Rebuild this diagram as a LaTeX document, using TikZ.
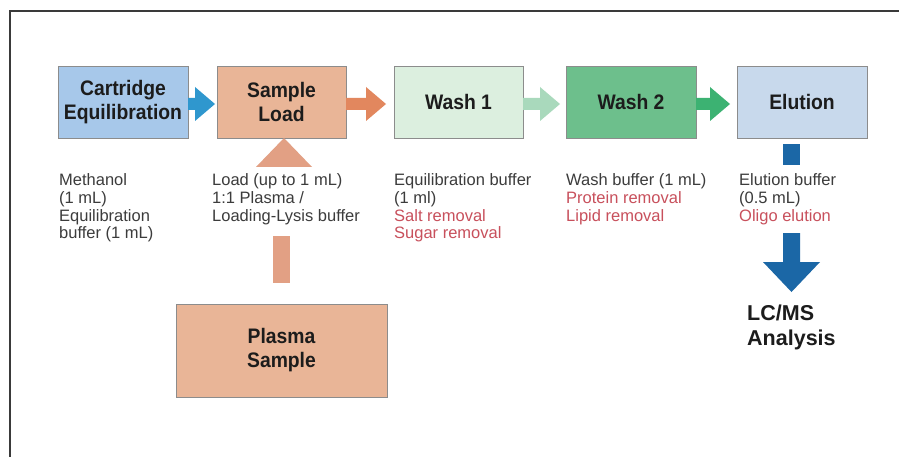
\documentclass[tikz,border=0pt]{standalone}
\usepackage{fontspec}
\setmainfont{Liberation Sans}
\newfontfamily\titlefont[FakeStretch=0.92]{Liberation Sans}
\usetikzlibrary{calc}
\definecolor{cartfill}{HTML}{A7C8EA}
\definecolor{sampfill}{HTML}{E9B597}
\definecolor{washAfill}{HTML}{DCEFDF}
\definecolor{washBfill}{HTML}{6DBF8C}
\definecolor{elutfill}{HTML}{C8D9EC}
\definecolor{arrA}{HTML}{2F97CE}
\definecolor{arrB}{HTML}{E2875E}
\definecolor{arrC}{HTML}{A9D9BC}
\definecolor{arrD}{HTML}{3CB272}
\definecolor{arrUp}{HTML}{E2A084}
\definecolor{arrDown}{HTML}{1B67A6}
\definecolor{redtext}{HTML}{C8505C}
\definecolor{bodytext}{HTML}{3C3C3C}
\definecolor{titletext}{HTML}{1C1C1C}
\definecolor{boxline}{HTML}{8C8C8C}
\definecolor{framecol}{HTML}{3A3A3A}
\newcommand\blkarrow[4]{%
  \fill[#4] ($(#1.east)+(0,-4)$) -- ($(#2.west)+(-#3-20,-4)$) -- ($(#2.west)+(-#3-20,-15)$)
    -- ($(#2.west)+(-#3,2)$) -- ($(#2.west)+(-#3-20,19)$) -- ($(#2.west)+(-#3-20,8)$)
    -- ($(#1.east)+(0,8)$) -- cycle;}
\begin{document}
\begin{tikzpicture}[x=1pt,y=-1pt,
  stepbox/.style={draw=boxline,line width=0.8pt,inner sep=0pt,outer sep=0pt,
    minimum width=130pt,minimum height=72pt,align=center,
    font=\titlefont\bfseries\fontsize{21}{24}\selectfont,text=titletext},
  body/.style={anchor=north west,inner sep=0pt,align=left,
    font=\fontsize{16.5}{17.7}\selectfont,text=bodytext},
  frameline/.style={draw=framecol,line width=1.3pt}]
\useasboundingbox (0,0) rectangle (899,457);
\fill[white] (0,0) rectangle (899,457);
\draw[frameline] (10,457) -- (10,11) -- (899,11);

\node[stepbox,fill=cartfill] (cart) at (123,102) {Cartridge\\Equilibration};
\node[stepbox,fill=sampfill,minimum width=129pt] (samp) at (281.5,102) {Sample\\Load};
\node[stepbox,fill=washAfill,minimum width=129pt] (washA) at (458.5,102) {Wash 1};
\node[stepbox,fill=washBfill] (washB) at (631,102) {Wash 2};
\node[stepbox,fill=elutfill] (elut) at (802,102) {Elution};
\node[stepbox,fill=sampfill,minimum width=211pt,minimum height=93pt] (plasma) at (281.5,350.5) {Plasma\\Sample};

\blkarrow{cart}{samp}{2}{arrA}
\blkarrow{samp}{washA}{8}{arrB}
\blkarrow{washA}{washB}{6}{arrC}
\blkarrow{washB}{elut}{7}{arrD}

% plasma -> sample load
\fill[arrUp] ($(plasma.north)+(-8.5,-21)$) rectangle ($(plasma.north)+(8.5,-68)$);
\fill[arrUp] ($(samp.south)+(2.5,0)$) -- ($(samp.south)+(-25.5,29)$) -- ($(samp.south)+(30.5,29)$) -- cycle;

% elution -> LC/MS
\fill[arrDown] ($(elut.south)+(-19,6)$) rectangle ($(elut.south)+(-2,27)$);
\fill[arrDown] ($(elut.south)+(-19,95)$) -- ($(elut.south)+(-19,124)$) -- ($(elut.south)+(-39,124)$)
  -- ($(elut.south)+(-10.5,154)$) -- ($(elut.south)+(18,124)$) -- ($(elut.south)+(-2,124)$)
  -- ($(elut.south)+(-2,95)$) -- cycle;

\node[body] (t1) at (59,173.5) {Methanol\\(1 mL)\\Equilibration\\buffer (1 mL)};
\node[body] (t2) at (212,173.5) {Load (up to 1 mL)\\1:1 Plasma /\\Loading-Lysis buffer};
\node[body] (t3) at (394,173.5) {Equilibration buffer\\(1 ml)\\\textcolor{redtext}{Salt removal}\\\textcolor{redtext}{Sugar removal}};
\node[body] (t4) at (566,173.5) {Wash buffer (1 mL)\\\textcolor{redtext}{Protein removal}\\\textcolor{redtext}{Lipid removal}};
\node[body] (t5) at (739,173.5) {Elution buffer\\(0.5 mL)\\\textcolor{redtext}{Oligo elution}};

\node[anchor=north west,inner sep=0pt,align=left,text=titletext,
  font=\bfseries\fontsize{21.5}{25}\selectfont] (lcms) at (747,304.5) {LC/MS\\Analysis};
\end{tikzpicture}
\end{document}
